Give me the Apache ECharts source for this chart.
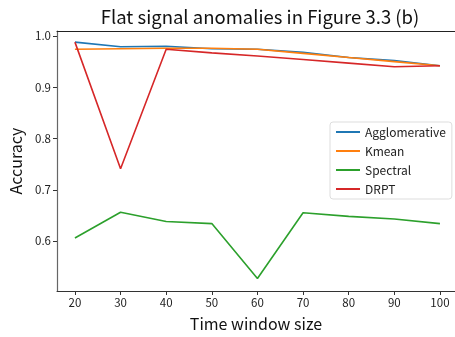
<!DOCTYPE html>
<html><head><meta charset="utf-8">
<script src="https://cdn.jsdelivr.net/npm/echarts@6/dist/echarts.min.js"></script>
<style>html,body{margin:0;padding:0;background:#fff}#c{width:455px;height:337px}</style>
</head><body><div id="c"></div>
<script>
const categories = [20, 30, 40, 50, 60, 70, 80, 90, 100];
const agglomerative = [0.988, 0.979, 0.980, 0.975, 0.974, 0.968, 0.958, 0.952, 0.942];
const kmean = [0.974, 0.975, 0.976, 0.976, 0.974, 0.966, 0.958, 0.950, 0.942];
const spectral = [0.606, 0.656, 0.638, 0.634, 0.527, 0.655, 0.648, 0.643, 0.634];
const drpt = [0.988, 0.741, 0.974, 0.967, 0.961, 0.954, 0.947, 0.940, 0.942];
const yTicks = [0.6, 0.7, 0.8, 0.9, 1.0];
const xTicks = [20, 30, 40, 50, 60, 70, 80, 90, 100];
const seriesNames = ['Agglomerative', 'Kmean', 'Spectral', 'DRPT'];
const colors = ['#1f77b4', '#ff7f0e', '#2ca02c', '#d62728'];
const values = [agglomerative, kmean, spectral, drpt];

const font = '"Noto Sans CJK KR", "Noto Sans", sans-serif';
const chart = echarts.init(document.getElementById('c'), null, {renderer: 'canvas'});
chart.setOption({
  animation: false,
  title: {
    text: 'Flat signal anomalies in Figure 3.3 (b)',
    left: 255, top: 3, textAlign: 'center',
    textStyle: {fontFamily: font, fontSize: 18.5, fontWeight: 'normal', color: '#111'}
  },
  grid: {left: 56, top: 31, right: 0, bottom: 46, containLabel: false},
  legend: {
    data: seriesNames, orient: 'vertical', left: 330, top: 122,
    itemWidth: 24, itemHeight: 2, itemGap: 7,
    icon: 'rect',
    backgroundColor: '#fff', borderColor: '#ddd', borderWidth: 1, borderRadius: 3,
    padding: [4, 6, 4, 6],
    textStyle: {fontFamily: font, fontSize: 12, color: '#222'}
  },
  xAxis: [{
    type: 'value', min: 16.07, max: 103.3, interval: 10,
    name: 'Time window size', nameLocation: 'middle', nameGap: 25,
    nameTextStyle: {fontFamily: font, fontSize: 16, color: '#111'},
    axisLine: {show: true, lineStyle: {color: '#333', width: 1}},
    axisTick: {show: true, length: 4, lineStyle: {color: '#333'}, customValues: xTicks},
    axisLabel: {fontFamily: font, fontSize: 11.5, color: '#222', margin: 6, customValues: xTicks},
    splitLine: {show: false}
  }, {
    type: 'value', position: 'top', min: 16.07, max: 103.3,
    axisLine: {show: true, lineStyle: {color: '#222', width: 1}},
    axisTick: {show: false}, axisLabel: {show: false}, splitLine: {show: false}
  }],
  yAxis: {
    type: 'value', min: 0.5025, max: 1.0097,
    name: 'Accuracy', nameLocation: 'middle', nameGap: 33,
    nameTextStyle: {fontFamily: font, fontSize: 16, color: '#111'},
    axisLine: {show: true, lineStyle: {color: '#666', width: 1.2}},
    axisTick: {show: true, length: 4, lineStyle: {color: '#333'}, customValues: yTicks},
    axisLabel: {fontFamily: font, fontSize: 11.5, color: '#222', margin: 6, customValues: yTicks,
      formatter: v => v.toFixed(1)},
    splitLine: {show: false}
  },
  series: seriesNames.map((n, i) => ({
    name: n, type: 'line', symbol: 'none', xAxisIndex: 0,
    data: categories.map((c, j) => [c, values[i][j]]),
    lineStyle: {color: colors[i], width: 1.6},
    itemStyle: {color: colors[i]}
  }))
});
</script></body></html>
